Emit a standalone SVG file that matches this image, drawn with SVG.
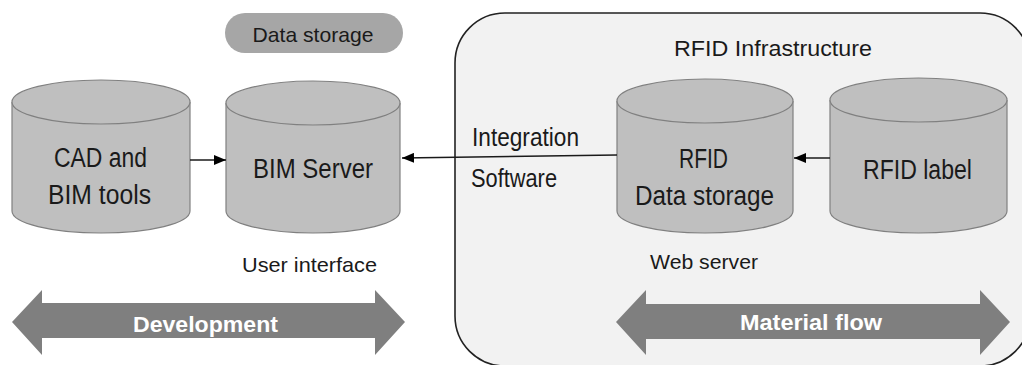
<svg xmlns="http://www.w3.org/2000/svg" width="1022" height="365" viewBox="0 0 1022 365">
<style>
  text { font-family: "Liberation Sans", Arial, sans-serif; fill: #1a1a1a; }
  .cyl { fill: #bfbfbf; stroke: #808080; stroke-width: 1.2; }
  .big { font-size: 27px; text-anchor: middle; }
  .lbl { font-size: 21px; }
  .mid { font-size: 26px; }
  .band { fill: #7f7f7f; }
  .bandtxt { font-size: 22px; font-weight: bold; fill: #ffffff; text-anchor: middle; }
  .conn { stroke: #1a1a1a; stroke-width: 1.6; fill: none; marker-end: url(#ah); }
</style>
<defs>
  <marker id="ah" viewBox="0 0 12 10" refX="12" refY="5" markerWidth="12" markerHeight="10" markerUnits="userSpaceOnUse" orient="auto">
    <path d="M0,0 L12,5 L0,10 Z" fill="#000"/>
  </marker>
</defs>
<rect width="1022" height="365" fill="#ffffff"/>

<g id="rfid-infrastructure">
  <rect x="455" y="13" width="575" height="353" rx="50" ry="50" fill="#f2f2f2" stroke="#222" stroke-width="1.6"/>
  <text x="773" y="56" font-size="22" text-anchor="middle" textLength="198" lengthAdjust="spacingAndGlyphs">RFID Infrastructure</text>
</g>

<g id="data-storage-label">
  <rect x="225" y="13" width="178" height="40" rx="20" ry="20" fill="#a6a6a6"/>
  <text x="313" y="42" font-size="21" text-anchor="middle" textLength="121" lengthAdjust="spacingAndGlyphs">Data storage</text>
</g>

<g id="cad-bim-tools">
  <path class="cyl" d="M12,102 L12,211 A89,22 0 0 0 190,211 L190,102"/>
  <ellipse class="cyl" cx="101" cy="102" rx="89" ry="22"/>
  <text class="big" x="100.5" y="167" textLength="93" lengthAdjust="spacingAndGlyphs">CAD and</text>
  <text class="big" x="99.5" y="204" textLength="103" lengthAdjust="spacingAndGlyphs">BIM tools</text>
</g>

<g id="bim-server">
  <path class="cyl" d="M226,103 L226,211 A87,22 0 0 0 400,211 L400,103"/>
  <ellipse class="cyl" cx="313" cy="103" rx="87" ry="22"/>
  <text class="big" x="313" y="178" textLength="120" lengthAdjust="spacingAndGlyphs">BIM Server</text>
  <text class="lbl" x="242" y="272" textLength="135" lengthAdjust="spacingAndGlyphs">User interface</text>
</g>

<g id="rfid-data-storage">
  <path class="cyl" d="M617,101 L617,211 A88,22 0 0 0 793,211 L793,101"/>
  <ellipse class="cyl" cx="705" cy="101" rx="88" ry="22"/>
  <text class="big" x="703.5" y="168" textLength="49" lengthAdjust="spacingAndGlyphs">RFID</text>
  <text class="big" x="704.5" y="205" textLength="139" lengthAdjust="spacingAndGlyphs">Data storage</text>
  <text class="lbl" x="650" y="269" textLength="108" lengthAdjust="spacingAndGlyphs">Web server</text>
</g>

<g id="rfid-label">
  <path class="cyl" d="M830,100 L830,211 A88.5,22 0 0 0 1007,211 L1007,100"/>
  <ellipse class="cyl" cx="918.5" cy="100" rx="88.5" ry="22"/>
  <text class="big" x="917.5" y="179" textLength="109" lengthAdjust="spacingAndGlyphs">RFID label</text>
</g>

<g id="integration-software">
  <text class="mid" x="472" y="146" textLength="107" lengthAdjust="spacingAndGlyphs">Integration</text>
  <text class="mid" x="471" y="187" textLength="86" lengthAdjust="spacingAndGlyphs">Software</text>
</g>

<g id="connectors">
  <line class="conn" x1="190" y1="160" x2="226" y2="160"/>
  <line class="conn" x1="617" y1="155" x2="402" y2="158"/>
  <line class="conn" x1="830" y1="158" x2="794" y2="158"/>
</g>

<g id="development">
  <polygon class="band" points="12,322 42,290 42,303 375,303 375,290 405,322 375,355 375,338 42,338 42,355"/>
  <text class="bandtxt" x="205.5" y="332" textLength="145" lengthAdjust="spacingAndGlyphs">Development</text>
</g>

<g id="material-flow">
  <polygon class="band" points="616,322 646,290 646,304 980,304 980,290 1010,322 980,355 980,339 646,339 646,355"/>
  <text class="bandtxt" x="811" y="330" textLength="142" lengthAdjust="spacingAndGlyphs">Material flow</text>
</g>
</svg>
